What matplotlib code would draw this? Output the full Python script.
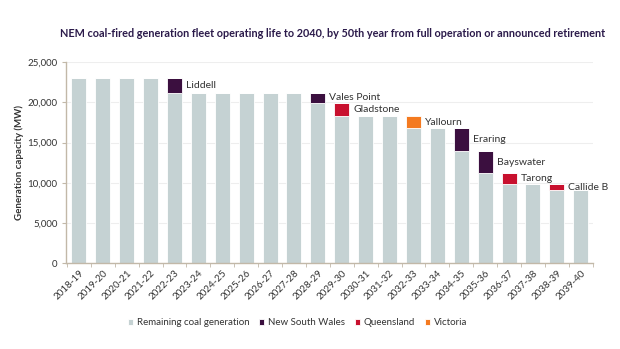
import matplotlib
matplotlib.use("Agg")
import matplotlib.pyplot as plt
import numpy as np

years = ["2018-19","2019-20","2020-21","2021-22","2022-23","2023-24","2024-25",
         "2025-26","2026-27","2027-28","2028-29","2029-30","2030-31","2031-32",
         "2032-33","2033-34","2034-35","2035-36","2036-37","2037-38","2038-39","2039-40"]
remaining = [23000,23000,23000,23000,21200,21200,21200,21200,21200,21200,19900,
             18250,18250,18250,16800,16800,13900,11200,9800,9800,9100,9100]
nsw = [0,0,0,0,1800,0,0,0,0,0,1300,0,0,0,0,0,2900,2700,0,0,0,0]
qld = [0,0,0,0,0,0,0,0,0,0,0,1650,0,0,0,0,0,0,1400,0,700,0]
vic = [0,0,0,0,0,0,0,0,0,0,0,0,0,0,1450,0,0,0,0,0,0,0]
stations = {4:"Liddell",10:"Vales Point",11:"Gladstone",14:"Yallourn",16:"Eraring",
            17:"Bayswater",18:"Tarong",20:"Callide B"}

c_rem = "#c5d2d3"
c_nsw = "#3b0f3f"
c_qld = "#c8102e"
c_vic = "#f47a20"
txt = "#333333"
spine = "#c2b8a8"

plt.rcParams['font.family'] = ['Lato', 'DejaVu Sans']

fig = plt.figure(figsize=(6.2, 3.49), dpi=100)
ax = fig.add_axes([0.106, 0.246, 0.850, 0.576])

x = np.arange(len(years))
w = 0.63
rem = np.array(remaining)
n = np.array(nsw); q = np.array(qld); v = np.array(vic)
ax.bar(x, rem, w, color=c_rem, edgecolor="white", linewidth=0.6, label="Remaining coal generation", zorder=2)
ax.bar(x, n, w, bottom=rem, color=c_nsw, edgecolor="white", linewidth=0.6, label="New South Wales", zorder=2)
ax.bar(x, q, w, bottom=rem + n, color=c_qld, edgecolor="white", linewidth=0.6, label="Queensland", zorder=2)
ax.bar(x, v, w, bottom=rem + n + q, color=c_vic, edgecolor="white", linewidth=0.6, label="Victoria", zorder=2)

for i, name in stations.items():
    seg = n[i] + q[i] + v[i]
    ax.text(i + 0.48, rem[i] + seg / 2, name, fontsize=7.5, color=txt,
            ha="left", va="center", zorder=3)

ax.set_xlim(-0.55, 21.5)
ax.set_ylim(0, 25000)
ax.set_yticks(np.arange(0, 25001, 5000))
ax.set_yticklabels([f"{t:,}" for t in range(0, 25001, 5000)], fontsize=7, color=txt)
ax.yaxis.grid(True, color="#eeeeee", linewidth=0.8, zorder=0)
ax.set_axisbelow(True)

ax.set_xticks(x)
ax.set_xticklabels(years, rotation=45, ha="right", rotation_mode="anchor", fontsize=7, color=txt)
ax.tick_params(axis="x", length=0, pad=4)
ax.set_xticks(np.arange(-0.5, 21.6, 1), minor=True)
ax.tick_params(axis="x", which="minor", length=3, color=spine, direction="out")
ax.tick_params(axis="y", length=3, color=spine, direction="out", pad=3)

for s in ["top", "right"]:
    ax.spines[s].set_visible(False)
for s in ["left", "bottom"]:
    ax.spines[s].set_color(spine)
    ax.spines[s].set_linewidth(1.0)

ax.set_ylabel("Generation capacity (MW)", fontsize=7, fontweight="bold", color=txt, labelpad=2)

fig.text(0.537, 0.905, "NEM coal-fired generation fleet operating life to 2040, by 50th year from full operation or announced retirement",
         ha="center", va="center", fontsize=7.8, fontweight="bold", color="#2b1a4a")

handles, labels = ax.get_legend_handles_labels()
leg = fig.legend(handles, labels, loc="center", bbox_to_anchor=(0.48, 0.075), ncol=4,
                 frameon=False, fontsize=7, handlelength=0.5, handleheight=0.5,
                 handletextpad=0.4, columnspacing=1.0, labelcolor=txt)

fig.savefig("out.png", dpi=100, facecolor="white")
